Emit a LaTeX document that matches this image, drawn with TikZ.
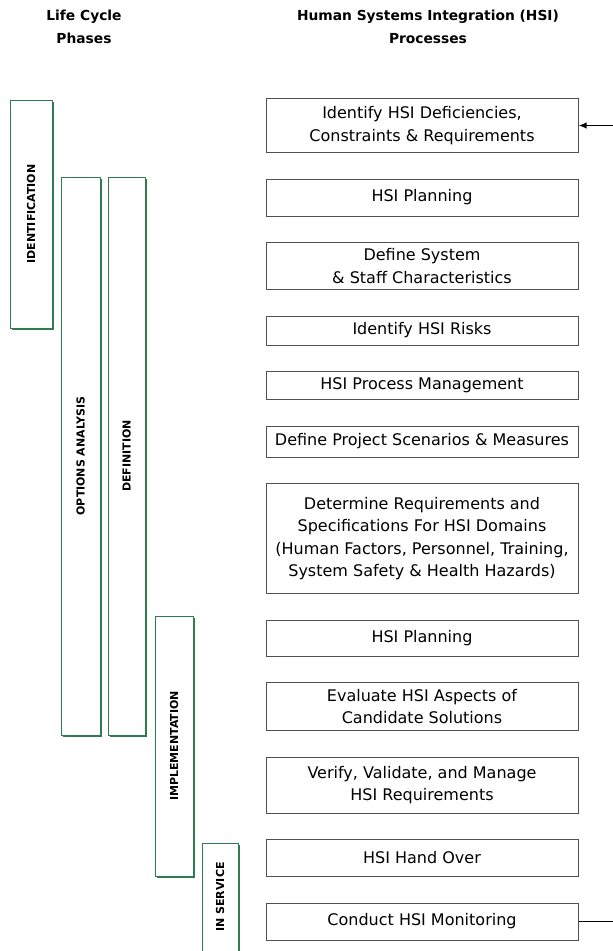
\documentclass[tikz,border=0pt]{standalone}
\usepackage{fontspec}
\setmainfont{DejaVu Sans}
\usepackage{tikz}
\usetikzlibrary{arrows.meta,positioning,shadows}
\usepackage{xcolor}
\definecolor{phgreen}{HTML}{2E7D4F}
\definecolor{boxgrey}{HTML}{505050}

\begin{document}
\begin{tikzpicture}[
  x=1pt,y=1pt,
  font=\fontsize{16}{22.5}\selectfont,
  proc/.style={draw=boxgrey,line width=1pt,align=center,inner sep=1pt,
    minimum width=312pt,fill=white},
  phase/.style={draw=phgreen,line width=0.9pt,fill=white,inner sep=0pt,
    minimum width=38pt,
    drop shadow={shadow xshift=2pt,shadow yshift=-2pt,fill=phgreen,opacity=1},
    font=\fontsize{11}{13}\selectfont\bfseries},
  head/.style={align=center,font=\fontsize{13.8}{23}\selectfont\bfseries},
  >={Latex[length=8pt,width=6.5pt]}]
\useasboundingbox (0,0) rectangle (613,-951);

% column headings
\node[head] (lch) at (84,-27) {Life Cycle\\Phases};
\node[head] (hsih) at (428,-27) {Human Systems Integration (HSI)\\Processes};

% life cycle phases
\node[phase,minimum width=42pt,minimum height=228pt] (ident) at (31,-214)
  {\rotatebox{90}{IDENTIFICATION}};
\node[phase,minimum width=39pt,minimum height=558pt] (opt) at (80.5,-456)
  {\rotatebox{90}{OPTIONS ANALYSIS}};
\node[phase,minimum width=37pt,minimum height=558pt] (defn) at (126.5,-456)
  {\rotatebox{90}{DEFINITION}};
\node[phase,minimum width=38pt,minimum height=260pt] (impl) at (174,-746)
  {\rotatebox{90}{IMPLEMENTATION}};
\node[phase,minimum width=36pt,minimum height=108pt] (insvc) at (220,-897)
  {\rotatebox{90}{IN SERVICE}};

% HSI processes
\node[proc,minimum height=54pt,anchor=north] (p1) at (422,-98)
  {Identify HSI Deficiencies,\\Constraints \& Requirements};
\node[proc,minimum height=37pt,below=25.5pt of p1] (p2) {HSI Planning};
\node[proc,minimum height=47pt,below=25.5pt of p2] (p3) {Define System\\\& Staff Characteristics};
\node[proc,minimum height=29pt,below=25.5pt of p3] (p4) {Identify HSI Risks};
\node[proc,minimum height=28pt,below=25.5pt of p4] (p5) {HSI Process Management};
\node[proc,minimum height=31pt,below=25.5pt of p5] (p6) {Define Project Scenarios \& Measures};
\node[proc,minimum height=110pt,below=25.5pt of p6] (p7)
  {Determine Requirements and\\Specifications For HSI Domains\\(Human Factors, Personnel, Training,\\System Safety \& Health Hazards)};
\node[proc,minimum height=36pt,below=25.5pt of p7] (p8) {HSI Planning};
\node[proc,minimum height=48pt,below=25.5pt of p8] (p9) {Evaluate HSI Aspects of\\Candidate Solutions};
\node[proc,minimum height=56pt,below=25.5pt of p9] (p10) {Verify, Validate, and Manage\\HSI Requirements};
\node[proc,minimum height=37pt,below=25.5pt of p10] (p11) {HSI Hand Over};
\node[proc,minimum height=37pt,below=25.5pt of p11] (p12) {Conduct HSI Monitoring};

% feedback loop back to the top
\coordinate (fb) at (613,0);
\draw[->,line width=1.6pt] (p1.east -| fb) -- (p1.east);
\draw[line width=1pt] (p12.east) -- (p12.east -| fb);
\end{tikzpicture}
\end{document}
